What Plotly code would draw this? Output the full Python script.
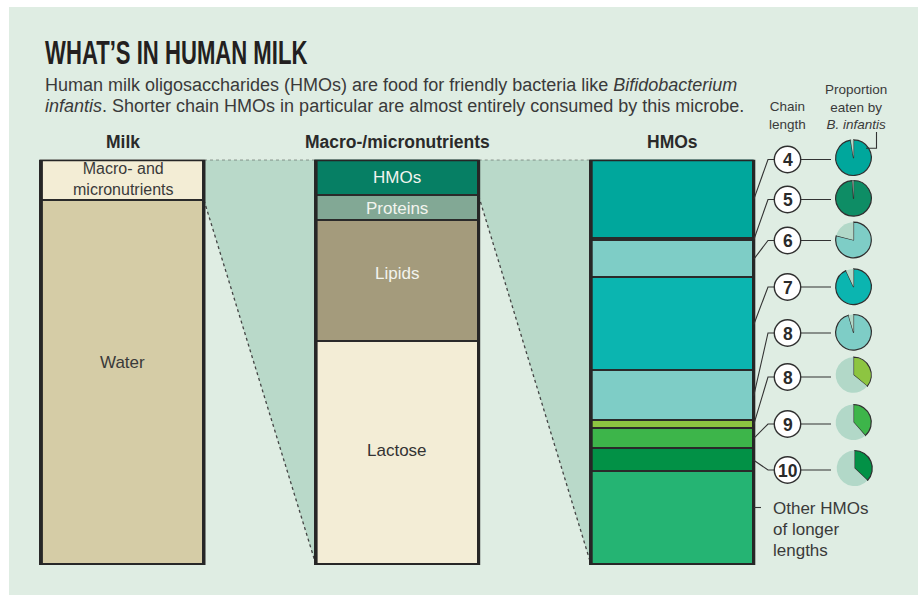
import numpy as np
import plotly.graph_objects as go

W, H = 918, 595

# ---------------- data ----------------
milk_labels = ["Macro- and<br>micronutrients", "Water"]
milk_values = [10, 90]
milk_colors = ["#F3EDD5", "#D5CCA6"]

macro_labels = ["HMOs", "Proteins", "Lipids", "Lactose"]
macro_values = [9, 6, 30, 55]
macro_colors = ["#067F64", "#82A895", "#A49B7C", "#F3EDD6"]
macro_text_colors = ["#F2F4EE", "#F2F4EE", "#F2F4EE", "#333333"]

hmo_chain = ["4", "5", "6", "7", "8", "8", "9", "10"]
hmo_values = [19.6, 0.3, 9.3, 22.9, 12.2, 2.0, 4.9, 5.9]
hmo_other_value = 22.9
hmo_colors = ["#00A79C", "#0E8D65", "#7ECDC6", "#0BB5B0", "#7ECDC6",
              "#8DC541", "#3DB54A", "#029146"]
hmo_other_color = "#25B473"
eaten_share = [0.975, 0.99, 0.79, 0.93, 0.955, 0.36, 0.385, 0.37]

headers = ["Milk", "Macro-/micronutrients", "HMOs"]
title = "WHAT\u2019S IN HUMAN MILK"
subtitle = ["Human milk oligosaccharides (HMOs) are food for friendly bacteria like <i>Bifidobacterium</i>",
            "<i>infantis</i>. Shorter chain HMOs in particular are almost entirely consumed by this microbe."]
chain_header = "Chain<br>length"
eaten_header = "Proportion<br>eaten by<br><i>B. infantis</i>"
other_label = ["Other HMOs", "of longer", "lengths"]

# ---------------- layout constants ----------------
BG = "#DFEDE3"
SHADE = "#B9D9C9"
UNEATEN = "#B2D8C8"
INK = "#2A2A2A"
FONT = "Liberation Sans, Arial, sans-serif"

COL_TOP, COL_BOT = 159.7, 565.0
col_centers = [122.7, 397.4, 672.5]
col_w = 162.6

def pct_px(p):
    return COL_TOP + p / 100.0 * (COL_BOT - COL_TOP)

def fx(x):
    return x / W

def fy(y):
    return 1 - y / H

fig = go.Figure()

columns = [
    (milk_values, milk_colors),
    (macro_values, macro_colors),
    (hmo_values + [hmo_other_value], hmo_colors + [hmo_other_color]),
]
for ci, (vals, cols) in enumerate(columns):
    for v, c in zip(vals, cols):
        fig.add_trace(go.Bar(
            x=[col_centers[ci]], y=[v], width=[col_w],
            marker=dict(color=c, line=dict(color=INK, width=1.6)),
            hoverinfo="skip", showlegend=False))

# ---------------- pies ----------------
circle_x, circle_r = 787.5, 13.2
circle_y = [159.5, 199.5, 240.5, 287.0, 333.0, 377.0, 424.0, 470.0]
pie_x = [853.5] * 7 + [854.5]
pie_y = [157.7, 198.3, 240.0, 286.7, 332.3, 375.0, 422.3, 468.3]
pie_r = 17.8
for i, e in enumerate(eaten_share):
    fig.add_trace(go.Pie(
        values=[e, 1 - e], sort=False, direction="clockwise", rotation=0,
        marker=dict(colors=[hmo_colors[i], UNEATEN],
                    line=dict(color=["#2F2F2F", "rgba(0,0,0,0)"], width=[1.2, 0])),
        textinfo="none", hoverinfo="skip", showlegend=False,
        domain=dict(x=[fx(pie_x[i] - pie_r), fx(pie_x[i] + pie_r)],
                    y=[fy(pie_y[i] + pie_r), fy(pie_y[i] - pie_r)])))

shapes = []
# background panel
shapes.append(dict(type="rect", xref="paper", yref="paper", x0=fx(9), x1=1, y0=0, y1=fy(7),
                   fillcolor=BG, line=dict(width=0), layer="below"))

# connecting wedges between columns (data coordinates)
edges = [(c - col_w / 2, c + col_w / 2) for c in col_centers]
links = [(edges[0][1], edges[1][0], milk_values[0]),
         (edges[1][1], edges[2][0], macro_values[0])]
for xa, xb, part in links:
    shapes.append(dict(type="path", xref="x", yref="y",
                       path=f"M {xa},0 L {xb},0 L {xb},100 L {xa},{part} Z",
                       fillcolor=SHADE, line=dict(width=0), layer="below"))
for xa, xb, part in links:
    shapes.append(dict(type="line", xref="x", yref="y", x0=xa, x1=xb, y0=0, y1=0,
                       line=dict(color="#444", width=1.3, dash="dot"), layer="below"))
    shapes.append(dict(type="line", xref="x", yref="y", x0=xa, x1=xb, y0=part, y1=100,
                       line=dict(color="#444", width=1.3, dash="dot"), layer="below"))

# column outlines
for (x0, x1) in edges:
    shapes.append(dict(type="rect", xref="x", yref="y", x0=x0, x1=x1, y0=0, y1=100,
                       line=dict(color="#262626", width=3), fillcolor="rgba(0,0,0,0)"))

# callouts
cum = np.cumsum([0] + hmo_values)
mids = [(cum[i] + cum[i + 1]) / 2 for i in range(len(hmo_values))]
col_right = edges[2][1]
elbow_x = 768.0
for i, m in enumerate(mids):
    ty = pct_px(m)
    cy = circle_y[i]
    shapes.append(dict(type="path", xref="paper", yref="paper",
                       path=f"M {fx(col_right)},{fy(ty)} L {fx(elbow_x)},{fy(cy)} L {fx(circle_x)},{fy(cy)}",
                       line=dict(color="#333", width=1.1)))
    shapes.append(dict(type="line", xref="paper", yref="paper",
                       x0=fx(circle_x), x1=fx(831), y0=fy(cy), y1=fy(cy),
                       line=dict(color="#333", width=1.1)))
for i in range(len(mids)):
    cy = circle_y[i]
    shapes.append(dict(type="circle", xref="paper", yref="paper",
                       x0=fx(circle_x - circle_r), x1=fx(circle_x + circle_r),
                       y0=fy(cy + circle_r), y1=fy(cy - circle_r),
                       fillcolor="white", line=dict(color="#2F2F2F", width=1.4)))

# tick for "other"
other_y = 507.5
shapes.append(dict(type="line", xref="paper", yref="paper",
                   x0=fx(col_right), x1=fx(761), y0=fy(other_y), y1=fy(other_y),
                   line=dict(color="#333", width=1.1)))
# bracket from "B. infantis" to first pie
shapes.append(dict(type="path", xref="paper", yref="paper",
                   path=f"M {fx(876.5)},{fy(132)} L {fx(876.5)},{fy(148.3)} L {fx(866)},{fy(148.3)}",
                   line=dict(color="#333", width=1.1)))

annotations = []

def ann(text, x, y, size, color="#333333", xanchor="center", family=FONT, weight=None):
    f = dict(size=size, color=color, family=family)
    if weight:
        f["weight"] = weight
    annotations.append(dict(text=text, x=fx(x), y=fy(y), xref="paper", yref="paper",
                            xanchor=xanchor, yanchor="middle", showarrow=False, font=f))

ann(title, 43, 52.3, 33, "#231F20", "left", FONT, 700)
ann(subtitle[0], 43, 84.8, 18, "#3A3A3A", "left")
ann(subtitle[1], 43, 105.5, 18, "#3A3A3A", "left")
for h, cx in zip(headers, [122.7, 397.4, 672.5]):
    ann(h, cx, 142.0, 17.5, "#2A2A2A", weight=700)

# milk labels
ann(milk_labels[0], col_centers[0], pct_px(milk_values[0] / 2) - 0.5, 16, "#3A3A3A")
ann(milk_labels[1], col_centers[0], pct_px(50), 17, "#3A3A3A")

mcum = np.cumsum([0] + macro_values)
macro_shift = [0, 0, -8, -3.5]
for i, lab in enumerate(macro_labels):
    yy = pct_px((mcum[i] + mcum[i + 1]) / 2) + macro_shift[i]
    ann(lab, col_centers[1], yy, 17, macro_text_colors[i])

# side headers
ann(chain_header, 787, 116.0, 13.5, "#3A3A3A")
ann(eaten_header, 855.5, 106.6, 13.5, "#3A3A3A")

for i, lab in enumerate(hmo_chain):
    ann(lab, circle_x, circle_y[i] + 0.5, 17.5, "#2A2A2A", weight=700)

for k, line in enumerate(other_label):
    ann(line, 770.5, 508.8 + 20.9 * k, 17, "#3A3A3A", "left")

fig.update_layout(
    width=W, height=H, autosize=False,
    margin=dict(l=0, r=0, t=0, b=0),
    paper_bgcolor="white", plot_bgcolor="rgba(0,0,0,0)",
    barmode="stack", bargap=0,
    xaxis=dict(range=[0, W], domain=[0, 1], visible=False, fixedrange=True),
    yaxis=dict(range=[100, 0], domain=[(H - COL_BOT) / H, (H - COL_TOP) / H],
               visible=False, fixedrange=True),
    shapes=shapes, annotations=annotations,
    font=dict(family=FONT),
)

post = """
document.body.style.margin = '0';
document.body.style.overflow = 'hidden';
var gd = document.getElementById('{plot_id}');
function squeezeTitle() {
  var ts = gd.querySelectorAll('.annotation-text');
  for (var i = 0; i < ts.length; i++) {
    var t = ts[i];
    if (t.textContent.indexOf('WHAT') === 0) {
      t.style.transformBox = 'fill-box';
      t.style.transformOrigin = '0% 50%';
      t.style.transform = 'scaleX(0.67)';
    }
  }
}
squeezeTitle();
if (gd.on) { gd.on('plotly_afterplot', squeezeTitle); }
"""

fig.write_html("out.html", config={"displayModeBar": False}, post_script=post)
